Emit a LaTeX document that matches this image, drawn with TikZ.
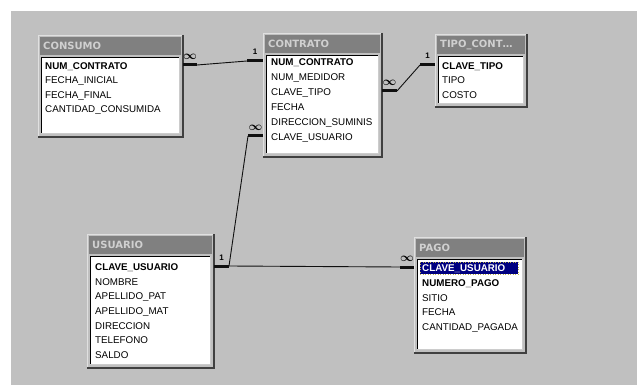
\documentclass[tikz,border=0pt]{standalone}
\usepackage{fontspec}
\setmainfont{Liberation Sans}
\newfontfamily\titlefont{DejaVu Sans}
\usetikzlibrary{positioning,calc}

\begin{document}
\begin{tikzpicture}[x=1pt,y=-1pt,
    every node/.style={inner sep=0pt, font=\fontsize{9.8}{11}\selectfont},
    marco/.style={fill=fondo, anchor=north west, inner sep=0pt, outer sep=0pt},
    campo/.style={anchor=west, text height=7pt, text depth=2pt},
    clave/.style={campo, font=\fontsize{9.8}{11}\selectfont\bfseries},
    titulo/.style={anchor=west, text=tinta, font=\titlefont\fontsize{10}{12}\selectfont\bfseries},
    tope/.style={draw=linea, line width=3pt},
    enlace/.style={draw=linea, line width=0.9pt},
    card/.style={above=4.5pt, font=\fontsize{8}{9}\selectfont\bfseries},
    muchos/.style={above=4pt, font=\fontsize{12}{12}\selectfont\boldmath}]
  \definecolor{fondo}{HTML}{C0C0C0}\definecolor{barra}{HTML}{808080}
  \definecolor{tinta}{HTML}{D0D0D0}\definecolor{linea}{HTML}{101010}
  \definecolor{sel}{HTML}{000080}
  \useasboundingbox (0,0) rectangle (637,385);
  \fill[fondo] (11,11) rectangle (637,385);
  % marcos, barras de titulo y listas de campos
  \foreach \n/\x/\y/\w/\h/\t in {consumo/38/35/145/102/CONSUMO,
      contrato/263/33/119/124/CONTRATO, tipo/435/34/92/73/TIPO\_CONT\ldots,
      usuario/87/234/127/134/USUARIO, pago/414/237/112/116/PAGO} {
    \node[marco, minimum width=\w pt, minimum height=\h pt] (\n) at (\x,\y) {};
    \draw[white!88!black, line width=1pt] ([shift={(0.5,-0.5)}]\n.south west) |- ([shift={(-0.5,0.5)}]\n.north east);
    \draw[black!75, line width=1.5pt] (\n.north east) |- (\n.south west);
    \fill[barra] ([shift={(2,2)}]\n.north west) rectangle ([shift={(-2,20)}]\n.north east);
    \node[titulo] (\n-t) at ([shift={(5,11)}]\n.north west) {\t};
    \fill[white] ([shift={(3,22)}]\n.north west) rectangle ([shift={(-3,-3)}]\n.south east);
    \draw[black, line width=1pt] ([shift={(3.5,-3)}]\n.south west) |- ([shift={(-3,22.5)}]\n.north east);
    \draw[white!80!black, line width=1pt] ([shift={(-3.5,22)}]\n.north east) |- ([shift={(3,-3.5)}]\n.south west);
  }
  % CONSUMO
  \node[clave] (consumo-1) at (45,67) {NUM\_CONTRATO};
  \foreach \c [count=\i from 2] in {FECHA\_INICIAL, FECHA\_FINAL, CANTIDAD\_CONSUMIDA}
    \node[campo] (consumo-\i) at ([yshift={-14.5*(\i-1)}]consumo-1.west) {\c};
  % CONTRATO
  \node[clave] (contrato-1) at (271,63) {NUM\_CONTRATO};
  \foreach \c [count=\i from 2] in {NUM\_MEDIDOR, CLAVE\_TIPO, FECHA, DIRECCION\_SUMINIS, CLAVE\_USUARIO}
    \node[campo] (contrato-\i) at ([yshift={-15*(\i-1)}]contrato-1.west) {\c};
  % TIPO_CONTRATO
  \node[clave] (tipo-1) at (442,67) {CLAVE\_TIPO};
  \foreach \c [count=\i from 2] in {TIPO, COSTO}
    \node[campo] (tipo-\i) at ([yshift={-14.5*(\i-1)}]tipo-1.west) {\c};
  % USUARIO
  \node[clave] (usuario-1) at (95,268) {CLAVE\_USUARIO};
  \foreach \c [count=\i from 2] in {NOMBRE, APELLIDO\_PAT, APELLIDO\_MAT, DIRECCION, TELEFONO, SALDO}
    \node[campo] (usuario-\i) at ([yshift={-14.67*(\i-1)}]usuario-1.west) {\c};
  % PAGO, con la primera fila seleccionada
  \node[fill=sel, draw=yellow!70!sel, dotted, line width=0.5pt, minimum width=98pt, minimum height=12pt, anchor=west] (pago-sel) at (420,268) {};
  \node[clave, text=white] (pago-1) at (422,269) {CLAVE\_USUARIO};
  \node[clave] (pago-2) at ([yshift=-14.75pt]pago-1.west) {NUMERO\_PAGO};
  \foreach \c [count=\i from 3] in {SITIO, FECHA, CANTIDAD\_PAGADA}
    \node[campo] (pago-\i) at ([yshift={-14.75*(\i-1)}]pago-1.west) {\c};

  % relaciones
  \draw[tope] ([yshift=2pt]consumo.east |- consumo-1) -- node[muchos] {$\infty$} ++(14,0) coordinate (a1);
  \draw[tope] ([yshift=2pt]contrato.west |- contrato-1) -- node[card] {1} ++(-16,0) coordinate (b1);
  \draw[enlace] (a1) -- (b1);
  \draw[tope] ([yshift=2pt]contrato.east |- contrato-3) -- node[muchos] {$\infty$} ++(15,0) coordinate (a2);
  \draw[tope] ([yshift=2pt]tipo.west |- tipo-1) -- node[card] {1} ++(-15,0) coordinate (b2);
  \draw[enlace] (a2) -- (b2);
  \draw[tope] ([yshift=2pt]contrato.west |- contrato-6) -- node[muchos] {$\infty$} ++(-15,0) coordinate (a3);
  \draw[tope] ([yshift=2pt]usuario.east |- usuario-1) -- node[card] {1} ++(15,0) coordinate (b3);
  \draw[enlace] (a3) -- (b3);
  \draw[tope] ([yshift=2pt]pago.west |- pago-1) -- node[muchos] {$\infty$} ++(-14,0) coordinate (a4);
  \draw[enlace] (b3) -- (a4);
\end{tikzpicture}
\end{document}
